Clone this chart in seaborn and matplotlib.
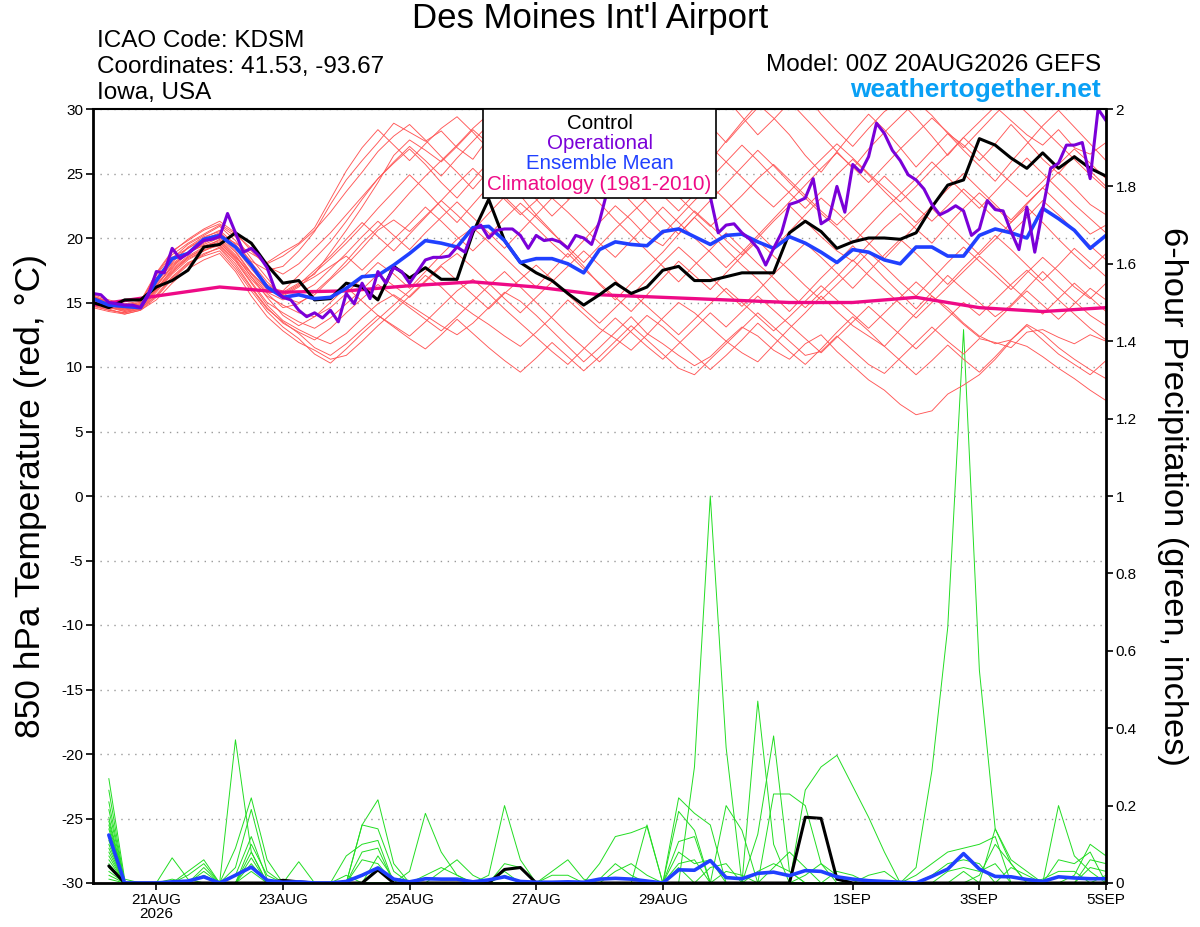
import numpy as np
import pandas as pd
import matplotlib
matplotlib.use("Agg")
import matplotlib.pyplot as plt
import seaborn as sns
from matplotlib.offsetbox import AnchoredOffsetbox, TextArea, VPacker

# ---- data (00Z 20AUG2026, KDSM) ----
run_start = "2026-08-20 00:00"

tick_dates = ["2026-08-21", "2026-08-23", "2026-08-25", "2026-08-27",
              "2026-08-29", "2026-09-01", "2026-09-03", "2026-09-05"]
tick_labels = ["21AUG\n2026", "23AUG", "25AUG", "27AUG", "29AUG", "1SEP", "3SEP", "5SEP"]

temp_ticks = [-30, -25, -20, -15, -10, -5, 0, 5, 10, 15, 20, 25, 30]
precip_ticks = [0, 0.2, 0.4, 0.6, 0.8, 1, 1.2, 1.4, 1.6, 1.8, 2]
precip_tick_labels = ["0", "0.2", "0.4", "0.6", "0.8", "1", "1.2", "1.4", "1.6", "1.8", "2"]

# 850 hPa temperature, 6-hourly, 20 perturbed members (65 steps each)
member_temp = [
    [15.4,15.0,14.7,14.9, 16.8,18.5,19.2,20.0, 20.6,19.5,18.2,17.5, 17.8,19.0,20.5,22.6,
     24.5,26.0,27.4,28.9, 28.2,27.5,28.3,27.0, 26.1,27.8,29.2,30.5, 29.4,28.0,26.5,25.2,
     26.8,28.5,29.9,31.0, 30.2,28.6,27.3,26.0, 27.5,29.0,30.4,29.3, 28.0,26.4,25.1,26.7,
     28.2,29.6,28.4,27.0, 25.5,26.8,28.1,27.2, 26.0,27.3,28.8,27.5, 26.1,25.0,26.4,25.2, 24.0],
    [15.1,14.8,14.5,14.7, 16.2,17.9,18.8,19.6, 20.2,19.0,17.3,16.1, 15.8,16.5,17.2,18.9,
     20.6,22.4,24.3,26.4, 27.6,26.8,25.9,27.1, 28.4,27.3,25.8,24.2, 25.7,27.3,28.9,30.2,
     29.1,30.6,31.5,29.8, 28.2,27.0,28.6,29.9, 30.8,29.4,28.0,29.2, 30.5,31.2,29.6,28.3,
     27.1,28.5,29.8,30.6, 29.3,27.9,26.4,27.8, 29.0,30.2,29.1,28.0, 27.2,28.4,27.0,26.5, 27.4],
    [14.9,14.6,14.3,14.6, 15.9,17.3,18.5,19.1, 19.4,18.2,16.5,14.8, 13.6,12.9,12.3,11.8,
     12.6,13.8,14.9,15.6, 14.8,14.0,13.2,12.5, 13.4,14.6,15.8,15.1, 14.0,12.8,11.6,10.4,
     11.5,12.7,13.9,12.6, 11.8,10.9,10.1,10.8, 12.0,13.1,12.4,11.3, 10.6,11.8,12.5,11.2,
     10.1,9.0,8.2,7.1, 6.3,6.6,7.9,8.6, 9.4,10.6,12.0,11.6, 10.8,9.9,9.1,8.2, 7.4],
    [15.5,15.1,14.8,15.0, 17.1,18.7,19.6,20.3, 21.0,20.1,18.4,16.9, 15.4,15.0,15.6,16.8,
     17.9,19.2,20.6,21.4, 20.5,21.7,22.9,21.8, 20.6,21.9,23.2,22.0, 20.8,19.6,18.5,19.8,
     21.2,22.5,21.4,20.1, 19.4,20.8,22.1,21.0, 19.8,18.7,20.0,21.3, 22.5,21.3,20.1,19.0,
     18.2,19.5,20.8,21.9, 20.7,19.6,21.0,22.3, 23.5,22.4,21.2,22.6, 23.9,22.7,21.5,20.3, 21.0],
    [14.7,14.4,14.2,14.5, 15.6,17.0,18.1,18.6, 19.0,17.6,15.9,14.3, 13.1,12.2,11.0,10.3,
     11.4,12.6,13.7,14.8, 15.9,17.1,16.2,15.0, 14.1,13.3,12.4,11.6, 12.7,13.9,15.2,14.1,
     13.0,12.2,11.3,12.5, 13.8,15.0,14.2,13.1, 12.0,11.1,10.4,11.7, 13.0,14.2,15.5,14.3,
     13.2,12.4,11.6,12.9, 14.2,15.5,14.6,13.4, 12.4,11.8,12.1,13.3, 12.6,11.5,10.6,9.8, 9.1],
    [15.2,14.9,14.4,14.7, 16.5,18.1,19.3,20.1, 20.5,19.2,17.6,16.2, 15.9,17.1,18.4,19.7,
     21.3,23.0,24.6,25.8, 26.9,25.7,24.3,23.1, 24.5,25.9,24.6,23.3, 21.8,20.5,19.1,17.8,
     16.4,15.2,16.5,17.7, 18.9,20.3,21.6,20.4, 19.1,17.9,16.8,15.5, 14.3,15.6,16.9,18.1,
     19.4,18.2,16.9,15.7, 14.5,15.8,17.1,16.0, 15.0,13.9,14.8,16.1, 17.4,16.2,15.1,14.0, 13.2],
    [15.0,14.7,14.6,14.9, 16.6,18.0,18.9,19.4, 19.8,18.6,17.0,15.7, 14.6,14.9,15.8,16.9,
     18.2,19.6,20.8,22.1, 23.5,24.8,26.0,27.2, 28.5,29.6,28.4,27.0, 28.3,29.7,30.9,29.5,
     28.1,27.0,28.4,29.6, 30.3,31.2,30.0,28.7, 27.4,28.8,30.1,31.4, 30.6,29.3,28.0,26.7,
     25.4,26.9,28.2,29.4, 30.6,29.5,28.1,26.8, 25.6,24.4,25.9,27.3, 28.7,29.9,28.6,27.3, 26.0],
    [15.3,14.8,14.4,14.6, 16.0,17.6,18.6,19.3, 19.7,18.4,16.8,15.5, 14.8,14.2,13.9,14.6,
     15.7,16.9,18.1,17.2, 16.1,17.4,18.7,19.9, 20.8,19.7,18.5,17.3, 16.2,17.5,18.8,17.6,
     16.5,15.4,14.3,15.6, 16.9,18.2,17.1,16.0, 17.3,18.6,19.8,18.6, 17.5,16.3,15.2,16.4,
     17.6,18.9,17.8,16.6, 15.5,16.8,18.1,19.3, 18.2,17.1,16.0,17.3, 18.5,17.4,16.2,15.3, 16.5],
    [15.6,15.2,14.9,15.1, 17.3,19.0,19.8,20.6, 21.1,20.3,19.2,18.0, 18.6,19.5,20.6,22.0,
     23.6,25.1,26.7,27.9, 28.8,27.6,26.3,25.1, 23.8,25.2,26.6,27.9, 29.2,30.4,29.1,27.8,
     26.5,25.2,24.0,22.8, 21.5,20.3,21.6,22.9, 24.2,25.5,26.8,25.6, 24.3,23.1,21.9,20.8,
     19.6,20.9,22.2,23.4, 24.6,25.9,24.7,23.5, 22.3,23.6,24.9,26.2, 25.0,23.8,22.6,21.5, 20.4],
    [14.8,14.5,14.1,14.4, 15.4,16.8,17.9,18.7, 19.3,18.0,16.2,14.6, 13.4,12.7,12.1,13.0,
     14.2,15.3,16.4,15.5, 14.6,13.7,12.8,13.9, 15.1,16.3,17.4,16.2, 15.0,13.8,12.6,11.5,
     10.4,11.6,12.8,14.0, 13.1,12.0,10.9,9.8, 10.9,12.1,13.4,12.3, 11.2,10.2,11.4,12.7,
     13.9,12.8,11.6,10.5, 9.4,10.5,11.7,10.6, 9.6,10.8,12.1,13.2, 12.1,11.0,10.2,9.4, 10.5],
    [15.4,15.0,14.6,14.8, 16.9,18.4,19.5,20.2, 20.9,19.8,18.1,16.6, 15.5,16.2,17.3,18.4,
     19.6,20.9,22.3,23.6, 24.9,23.7,22.4,21.2, 22.6,24.0,25.4,26.6, 25.4,24.2,23.0,24.3,
     25.6,26.9,25.7,24.5, 23.3,22.1,23.4,24.6, 25.9,27.2,26.0,24.7, 23.5,22.3,23.6,24.9,
     26.1,24.9,23.6,22.4, 21.2,22.5,23.8,25.0, 23.8,22.6,21.4,22.7, 23.9,25.1,23.9,22.6, 21.8],
    [15.1,14.7,14.3,14.5, 15.8,17.2,18.3,19.0, 19.5,18.3,16.6,15.0, 14.2,13.5,13.0,13.8,
     14.9,16.0,17.2,16.3, 15.4,16.6,17.8,16.7, 15.6,14.5,15.7,16.8, 17.9,16.8,15.6,14.5,
     13.4,14.6,15.8,14.7, 13.6,12.5,13.7,14.9, 16.1,15.0,13.9,12.8, 13.9,15.1,16.3,15.2,
     14.1,13.0,14.2,15.4, 16.6,15.5,14.4,13.3, 12.3,13.5,14.7,15.9, 14.8,13.7,14.9,16.1, 15.2],
    [15.0,14.6,14.5,14.8, 16.4,17.8,18.9,19.7, 20.3,19.6,18.8,18.1, 18.9,19.6,20.8,23.0,
     25.2,27.0,28.4,27.2, 26.0,27.3,28.5,29.4, 28.2,26.9,25.6,24.3, 23.0,21.7,22.9,24.2,
     25.4,24.1,22.8,21.5, 20.3,21.6,22.9,24.1, 22.9,21.6,20.4,19.2, 20.5,21.8,23.1,22.0,
     20.8,19.6,18.4,19.7, 21.0,22.3,21.1,19.9, 18.7,19.9,21.2,22.4, 21.2,19.9,18.7,17.6, 18.8],
    [14.6,14.3,14.1,14.4, 15.2,16.5,17.6,18.3, 18.8,17.4,15.5,13.9, 12.8,11.9,11.3,10.6,
     10.9,12.0,13.2,14.3, 15.5,16.7,17.9,18.8, 17.7,16.5,15.3,14.2, 15.4,16.6,17.8,19.0,
     17.9,16.7,15.5,16.8, 18.1,19.3,18.2,17.0, 15.8,14.7,15.9,17.2, 18.4,19.6,18.5,17.3,
     16.1,17.4,18.7,19.9, 18.8,17.6,16.4,17.7, 18.9,20.2,19.1,17.9, 16.7,17.9,19.2,18.1, 17.0],
    [15.2,14.9,14.6,14.8, 16.3,17.7,18.8,19.5, 20.0,18.9,17.2,15.8, 15.2,15.7,16.4,17.6,
     18.8,20.1,21.3,20.2, 19.1,20.4,21.6,22.8, 21.6,20.4,19.2,20.5, 21.8,23.1,22.0,20.8,
     19.6,18.5,19.8,21.1, 22.4,21.2,20.0,18.9, 17.7,18.9,20.2,21.5, 22.8,24.1,25.4,26.6,
     25.5,24.3,25.6,26.9, 28.1,29.3,28.2,27.0, 28.3,29.6,30.8,29.7, 28.5,27.3,26.1,24.9, 23.8],
    [15.3,14.9,14.5,14.7, 16.1,17.5,18.5,19.2, 19.9,18.7,17.0,15.4, 14.0,13.2,13.9,15.0,
     16.2,15.1,14.0,13.2, 12.4,13.5,14.7,15.9, 16.8,15.7,14.5,13.4, 12.3,11.2,10.2,11.4,
     12.6,13.8,12.7,11.6, 10.6,11.8,13.0,14.2, 13.1,14.3,15.5,14.4, 13.3,12.2,11.1,12.3,
     13.5,14.7,13.6,12.5, 11.4,12.6,13.8,15.0, 14.0,15.2,16.4,17.5, 16.4,15.2,14.1,13.0, 12.1],
    [15.5,15.0,14.7,14.9, 16.9,18.2,19.2,19.9, 20.4,19.3,17.9,16.4, 15.7,16.4,17.5,18.6,
     19.9,21.2,20.1,19.0, 20.3,21.6,22.9,24.2, 25.4,24.2,23.0,21.8, 22.9,24.2,25.5,26.8,
     28.0,26.8,25.6,24.4, 25.7,27.0,28.2,27.1, 25.9,24.7,23.5,22.4, 23.6,24.9,26.1,27.3,
     26.2,25.0,23.9,22.8, 24.0,25.3,26.5,27.8, 26.6,25.4,24.3,23.2, 24.4,25.7,26.9,25.8, 24.6],
    [14.9,14.6,14.4,14.7, 16.0,17.4,18.4,19.0, 19.6,18.5,17.3,16.0, 15.6,16.3,17.0,17.8,
     18.6,17.5,18.7,19.9, 21.1,22.4,21.3,20.1, 19.0,20.2,21.5,22.7, 21.6,20.4,19.3,18.1,
     19.4,20.7,21.9,23.1, 24.3,23.2,22.0,20.9, 22.1,23.3,24.6,25.7, 24.5,23.3,22.1,21.0,
     22.2,23.5,24.8,23.6, 22.4,21.3,22.5,23.8, 22.7,21.5,20.4,21.6, 22.9,21.8,20.6,19.4, 18.3],
    [15.4,15.1,14.8,15.0, 17.2,18.9,19.9,20.7, 21.3,20.4,19.0,17.8, 17.2,18.0,19.2,20.4,
     21.8,23.2,24.6,25.9, 27.1,26.0,24.8,26.2, 27.5,28.8,30.1,29.0, 27.7,26.4,25.2,23.9,
     22.7,21.4,20.2,19.0, 17.8,16.6,17.9,19.1, 20.4,19.2,18.0,16.9, 15.7,14.6,15.8,17.0,
     18.3,17.1,16.0,14.9, 13.8,15.0,16.2,17.4, 18.6,17.5,16.3,15.2, 14.1,15.3,16.5,15.4, 14.3],
    [14.8,14.4,14.2,14.5, 15.5,16.9,18.0,18.8, 19.2,17.8,16.1,14.5, 13.5,12.6,11.5,10.9,
     11.8,12.9,14.0,13.1, 12.2,11.4,12.5,13.7, 12.6,11.5,10.5,9.6, 10.7,11.9,10.8,9.7,
     10.8,12.0,13.2,12.1, 11.0,9.9,9.4,10.6, 11.8,13.0,14.2,13.1, 12.0,10.9,11.2,12.4,
     11.3,10.2,9.5,10.7, 11.9,13.1,12.0,11.0, 12.2,11.9,11.5,12.7, 12.9,12.3,11.8,12.5, 12.0],
]

control_temp = [
    15.0,14.6,15.2,15.2, 16.2,16.7,17.5,19.3, 19.5,20.4,19.6,17.9, 16.5,16.7,15.2,15.3,
    16.5,16.2,15.2,17.8, 16.9,17.7,16.8,16.8, 20.4,23.0,19.8,18.1, 17.3,16.7,15.7,14.8,
    15.6,16.5,15.7,16.2, 17.5,17.8,16.7,16.7, 17.0,17.3,17.3,17.3, 20.4,21.3,20.5,19.2,
    19.7,20.0,20.0,19.9, 20.4,22.4,24.1,24.5, 27.7,27.2,26.2,25.4, 26.6,25.4,26.3,25.4, 24.8]

mean_temp = [
    15.3,14.8,14.7,14.6, 16.7,18.4,18.8,19.9, 20.2,19.3,17.9,16.2, 15.4,15.6,15.3,15.4,
    16.1,17.0,17.1,17.9, 18.8,19.8,19.6,19.3, 20.8,20.9,19.8,18.1, 18.4,18.4,18.0,17.3,
    19.1,19.7,19.5,19.4, 20.5,20.7,20.1,19.5, 20.2,20.3,19.7,19.2, 20.1,19.6,18.9,18.1,
    19.1,18.9,18.3,18.0, 19.3,19.3,18.6,18.6, 20.2,20.7,20.4,20.0, 22.3,21.5,20.6,19.2, 20.2]

# operational GFS, 3-hourly (129 steps)
oper_temp = [
    15.7,15.6,15.0,14.9,14.8,14.8,14.6,15.6, 17.4,17.3,19.2,18.4,18.8,19.3,19.8,19.9,
    20.1,21.9,20.4,18.9,19.2,18.6,17.7,16.0, 15.4,15.2,14.4,13.9,14.2,13.8,14.4,13.5,
    15.7,14.9,16.5,15.3,17.4,16.5,17.7,17.4, 16.5,17.4,18.3,18.5,18.5,18.6,19.3,18.9,
    20.6,21.0,20.0,20.6,20.7,20.7,20.2,19.2, 20.2,19.8,19.9,19.7,19.2,20.2,20.0,19.5,
    21.3,23.7,25.5,26.5,27.0,28.5,28.0,29.5, 31.0,30.5,29.0,28.0,27.0,25.5,23.2,20.4,
    21.0,21.1,20.4,19.9,19.2,17.9,19.2,20.4, 22.6,22.8,23.1,24.6,21.1,21.5,24.0,22.0,
    25.7,25.1,26.3,28.9,28.1,26.8,26.0,24.9, 24.5,23.8,22.6,21.8,22.1,22.5,22.1,20.2,
    20.7,22.9,22.2,22.1,20.5,19.1,22.4,18.9, 22.2,25.4,25.8,27.2,27.2,27.4,24.6,30.0,
    29.1]

# 1981-2010 climatology, daily at 00Z (17 steps)
clim_temp = [14.8, 15.5, 16.2, 15.8, 15.9, 16.3, 16.6, 16.2, 15.6, 15.4, 15.2, 15.0,
             15.0, 15.4, 14.6, 14.3, 14.6]

# 6-hour precipitation (inches), valid 06Z 20AUG .. 00Z 5SEP (64 steps)
member_precip = [
    [.27,.01,0,0,0,0,0,0, 0,0,0,0,0,0,0,0, .15,.215,.05,0,0,0,0,0, 0,0,0,0,0,0,0,0,
     0,0,0,0,0,0,0,0, 0,.03,.05,.03,0,0,0,0, 0,0,0,0,0,0,0,.02, .10,.05,0,0,0,0,0,0],
    [.24,0,0,0,0,0,0,0, .37,.08,0,0,0,0,0,0, 0,0,0,0,0,0,0,0, 0,0,0,0,0,0,0,.01,
     .05,.02,0,0,.04,0,0,0, 0,0,0,0,0,0,0,0, .02,.03,0,0,0,0,0,0, 0,0,0,0,.20,.07,.03,0],
    [.21,0,0,0,.065,.01,0,0, 0,0,0,0,0,0,0,0, 0,.07,.01,0,0,0,0,0, 0,0,0,0,.02,.02,0,0,
     0,0,0,0,0,0,0,.20, .136,0,0,0,0,0,0,0, 0,0,0,0,0,0,0,0, 0,0,0,0,0,0,0,.02],
    [.19,0,0,0,0,0,0,0, .04,.19,.03,0,0,0,0,0, 0,0,0,0,0,0,0,0, 0,0,0,0,0,0,0,0,
     0,0,0,0,.08,.05,.06,0, 0,0,0,0,0,0,0,0, 0,0,0,0,0,0,0,0, 0,0,0,.01,.03,.03,0,0],
    [.17,0,0,0,0,.03,.06,0, 0,0,0,0,0,0,0,0, 0,0,0,0,0,0,0,0, .02,.20,.06,0,0,0,0,0,
     0,0,0,0,0,0,0,0, 0,0,0,0,0,0,0,0, 0,0,0,.02,.05,.08,.09,.10, .12,0,0,0,0,0,0,0],
    [.16,0,0,0,0,0,.03,0, 0,0,0,0,0,0,0,.07, .10,.11,0,0,0,0,0,0, 0,0,0,0,0,0,0,0,
     0,0,.15,0,0,0,0,0, 0,0,.04,.08,.04,0,0,0, 0,0,0,0,0,0,0,0, 0,0,0,0,0,0,0,0],
    [.15,0,0,0,0,0,0,0, 0,0,0,0,.055,0,0,0, 0,0,0,0,0,0,0,0, 0,0,0,0,0,0,0,0,
     0,0,0,0,.22,.18,.15,0, 0,0,0,0,0,0,0,0, 0,0,0,0,0,0,0,0, .14,.06,.03,0,0,0,0,0],
    [.14,0,0,0,.01,0,0,0, 0,0,0,0,0,0,0,0, 0,0,0,0,.02,.04,.02,0, 0,0,0,0,0,0,0,0,
     0,0,0,0,0,0,0,.03, .02,0,0,0,0,0,0,0, 0,0,0,0,.02,.05,.06,.05, 0,0,0,0,0,0,0,0],
    [.12,0,0,0,0,0,0,0, .09,.22,.06,0,0,0,0,0, 0,0,0,0,0,0,0,0, 0,0,0,0,0,0,0,0,
     0,0,0,0,0,0,0,0, 0,.47,.10,0,0,0,0,0, 0,0,0,0,0,0,0,0, 0,0,0,0,.06,.05,.08,0],
    [.11,0,0,0,0,0,.02,0, 0,0,0,0,0,0,0,0, 0,.04,0,0,0,0,0,0, 0,0,0,0,.03,.06,.01,0,
     0,0,0,0,0,0,0,0, 0,0,0,0,0,0,0,0, 0,0,0,0,0,0,0,0, 0,0,0,0,0,.02,.10,.07],
    [.10,0,0,0,0,0,0,0, .02,.12,.01,0,0,0,0,0, 0,0,0,0,0,0,0,0, 0,0,0,0,0,0,0,.05,
     .12,.13,.146,0,0,0,0,0, 0,0,0,0,.24,.30,.33,.25, .17,.08,0,0,0,0,0,0, 0,0,0,0,0,0,0,0],
    [.09,0,0,0,0,.02,.05,0, 0,0,0,0,0,0,0,0, 0,0,0,0,0,0,0,0, 0,.05,.04,0,0,0,0,0,
     0,0,0,0,.185,.136,0,0, 0,0,0,0,0,0,0,0, 0,0,0,0,0,0,.03,0, 0,0,0,0,0,0,0,0],
    [.08,0,0,0,0,0,0,0, 0,.10,.02,0,0,0,0,0, 0,0,0,.03,.18,.08,.02,0, 0,0,0,0,0,0,0,0,
     0,0,0,0,0,0,0,0, 0,0,0,0,.02,.05,.02,0, 0,0,0,0,0,0,0,0, 0,.04,.02,0,0,0,0,0],
    [.07,0,0,0,0,0,.04,0, 0,0,0,0,0,0,0,0, .15,.14,.03,0,0,0,0,0, 0,0,0,0,0,0,0,0,
     0,0,0,0,0,0,.04,.05, 0,0,0,0,0,0,0,0, 0,0,0,0,0,0,0,0, 0,0,0,0,0,0,.06,.05],
    [.06,0,0,0,0,0,0,0, 0,.08,0,0,0,0,0,0, 0,0,0,0,0,0,0,0, 0,0,0,0,0,0,0,0,
     0,0,0,0,.107,.12,0,0, 0,0,0,0,0,0,0,0, 0,0,0,.04,.29,.66,1.43,.55, .14,.05,0,0,0,0,0,0],
    [.05,0,0,0,0,0,0,0, 0,0,0,0,0,0,0,.02, 0,0,0,0,0,.03,.06,.02, 0,0,0,0,0,0,0,0,
     0,0,0,0,0,0,0,0, 0,.126,.38,.03,0,0,0,0, 0,0,0,0,0,0,0,0, 0,0,0,0,0,0,0,0],
    [.04,0,0,0,0,0,0,0, 0,.065,0,0,0,0,0,0, 0,0,0,0,0,0,0,0, 0,.03,0,0,0,0,0,0,
     .03,.05,.02,0,0,0,0,0, 0,0,0,0,0,0,0,0, 0,0,0,0,0,.03,.04,.03, .05,0,0,0,0,0,0,0],
    [.03,0,0,0,0,0,0,0, 0,.05,0,0,0,0,0,0, .08,.09,0,0,0,0,0,0, 0,0,0,0,0,0,0,0,
     0,0,0,0,.05,.06,0,0, 0,0,0,0,0,0,.03,.02, 0,0,0,0,0,0,0,0, 0,0,0,0,0,0,0,0],
    [.02,0,0,0,0,0,0,0, 0,.03,0,0,0,0,0,0, 0,0,0,0,0,0,0,0, 0,.02,0,0,0,0,0,0,
     0,0,0,0,0,.30,1.0,.35, 0,0,0,0,0,0,0,0, 0,0,0,0,0,0,0,0, 0,0,0,0,0,0,.04,.03],
    [.01,0,0,0,0,0,0,0, 0,0,0,0,0,0,0,0, .06,.05,0,0,0,0,0,0, 0,0,0,0,0,0,0,0,
     0,0,0,0,0,0,0,0, 0,0,.23,.23,.20,.05,0,0, 0,0,0,0,0,0,0,0, 0,0,0,0,0,0,0,0],
]

control_precip = [
    .044,0,0,0,0,0,0,0, 0,0,0,.007,.003,0,0,0, 0,.034,0,0,0,0,0,0, 0,.035,.04,0,0,0,0,0,
    0,0,0,0,0,0,0,0, 0,0,0,0,.17,.167,.01,0, 0,0,0,0,0,0,0,0, 0,0,0,0,0,0,0,0]

mean_precip = [
    .124,0,0,0,.003,.005,.016,0, .02,.041,.007,.002,.003,0,0,.004,
    .02,.039,.01,.003,.011,.01,.01,.003, .008,.016,.004,.002,.002,.003,.002,.01,
    .012,.01,.005,0,.034,.033,.058,.014, .011,.025,.028,.019,.032,.03,.016,.01,
    .006,.004,.002,0,.017,.036,.076,.036, .017,.016,.009,.004,.016,.013,.011,.011]

legend_labels = ["Control", "Operational", "Ensemble Mean", "Climatology (1981-2010)"]

# ---- frames ----
t6 = pd.date_range(run_start, periods=65, freq="6h")
t3 = pd.date_range(run_start, periods=129, freq="3h")
tday = pd.date_range(run_start, periods=17, freq="D")

temp_df = pd.DataFrame({
    "time": np.tile(t6.values, len(member_temp)),
    "member": np.repeat(np.arange(len(member_temp)), len(t6)),
    "temp": np.concatenate(member_temp),
})
precip_df = pd.DataFrame({
    "time": np.tile(t6[1:].values, len(member_precip)),
    "member": np.repeat(np.arange(len(member_precip)), len(t6) - 1),
    "precip": np.concatenate(member_precip),
})

C_CTRL = "black"
C_OPER = "#7a00d8"
C_MEAN = "#2040ff"
C_CLIM = "#ee0a86"

sns.set_theme(style="white")
plt.rcParams["font.family"] = ["Liberation Sans", "DejaVu Sans"]
plt.rcParams["text.color"] = "black"
plt.rcParams["axes.labelcolor"] = "black"

fig = plt.figure(figsize=(12, 9.27), dpi=100, facecolor="white")
ax = fig.add_axes([93 / 1200, 44 / 927, 1013 / 1200, 774 / 927])
ax2 = ax.twinx()

# precipitation (right axis)
sns.lineplot(data=precip_df, x="time", y="precip", units="member", estimator=None,
             color="#22dd22", linewidth=0.7, ax=ax2, legend=False)
sns.lineplot(x=t6[1:], y=control_precip, color=C_CTRL, linewidth=2.2, ax=ax2)
sns.lineplot(x=t6[1:], y=mean_precip, color=C_MEAN, linewidth=2.6, ax=ax2)

# temperature (left axis)
sns.lineplot(data=temp_df, x="time", y="temp", units="member", estimator=None,
             color="#ff5656", linewidth=0.65, ax=ax, legend=False)
sns.lineplot(x=tday, y=clim_temp, color=C_CLIM, linewidth=2.4, ax=ax)
sns.lineplot(x=t6, y=control_temp, color=C_CTRL, linewidth=2.2, ax=ax)
sns.lineplot(x=t6, y=mean_temp, color=C_MEAN, linewidth=2.6, ax=ax)
sns.lineplot(x=t3, y=oper_temp, color=C_OPER, linewidth=2.2, ax=ax)

ax.set_zorder(ax2.get_zorder() + 1)
ax.patch.set_visible(False)

ax.set_xlim(t6[0], t6[-1])
ax.set_ylim(-30, 30)
ax2.set_ylim(0, 2)

ax.set_xticks(pd.to_datetime(tick_dates))
ax.set_xticklabels(tick_labels, linespacing=1.05)
ax.set_yticks(temp_ticks)
ax.set_yticklabels([str(v) for v in temp_ticks])
ax2.set_yticks(precip_ticks)
ax2.set_yticklabels(precip_tick_labels)

ax.yaxis.grid(True, linestyle=(0, (1, 4)), color="#999999", linewidth=1.0)
ax.xaxis.grid(False)
ax2.grid(False)

ax.tick_params(axis="both", direction="out", length=5, width=1.2, color="black",
               labelsize=11, labelcolor="black", left=True, bottom=True, pad=2)
ax2.tick_params(axis="y", direction="out", length=5, width=1.2, color="black",
                labelsize=11, labelcolor="black", right=True, pad=2)

for side in ["left", "bottom", "right"]:
    ax.spines[side].set_linewidth(2.0)
    ax.spines[side].set_color("black")
ax.spines["top"].set_linewidth(1.5)
ax.spines["top"].set_color("black")
for side in ax2.spines:
    ax2.spines[side].set_visible(False)

ax.set_xlabel("")
ax.set_ylabel("850 hPa Temperature (red, \u00b0C)", fontsize=25.5, color="black")
ax.yaxis.set_label_coords(-0.045, 0.5)
ax2.set_ylabel("6-hour Precipitation (green, inches)", fontsize=24.8, color="black",
               rotation=270, va="bottom")
ax2.yaxis.set_label_coords(1.05, 0.5)

# legend box with coloured text only
rows = [TextArea(lab, textprops=dict(color=col, fontsize=14.8))
        for lab, col in zip(legend_labels, [C_CTRL, C_OPER, C_MEAN, C_CLIM])]
box = VPacker(children=rows, align="center", pad=0, sep=1.0)
leg = AnchoredOffsetbox(loc="upper center", child=box, pad=0.3, borderpad=0, frameon=True)
leg.patch.set_boxstyle("square", pad=0)
leg.patch.set_edgecolor("black")
leg.patch.set_linewidth(1.2)
leg.patch.set_facecolor("white")
leg.set_zorder(10)
ax.add_artist(leg)

# header texts
fig.text(590 / 1200, 1 - 28 / 927, "Des Moines Int'l Airport", ha="center",
         va="baseline", fontsize=25)
fig.text(97 / 1200, 1 - 47 / 927, "ICAO Code: KDSM", ha="left", va="baseline",
         fontsize=17.5)
fig.text(97 / 1200, 1 - 73 / 927, "Coordinates: 41.53, -93.67", ha="left",
         va="baseline", fontsize=17.5)
fig.text(97 / 1200, 1 - 99 / 927, "Iowa, USA", ha="left", va="baseline", fontsize=17.5)
fig.text(1101 / 1200, 1 - 71 / 927, "Model: 00Z 20AUG2026 GEFS", ha="right",
         va="baseline", fontsize=17.5)
fig.text(1101 / 1200, 1 - 97 / 927, "weathertogether.net", ha="right", va="baseline",
         fontsize=19, fontweight="bold", color="#0aa0f5")

fig.savefig("out.png", dpi=100, facecolor="white")
